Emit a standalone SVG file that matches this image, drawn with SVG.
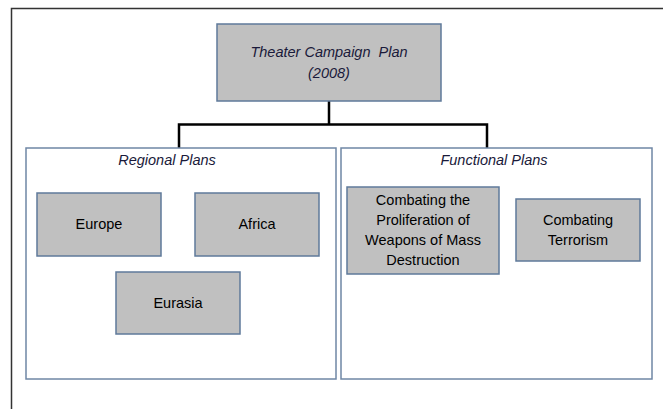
<svg xmlns="http://www.w3.org/2000/svg" width="663" height="409" viewBox="0 0 663 409">
<style>
.box{fill:#c0c0c0;stroke:#5f7a9a;stroke-width:1.5}
.grp{fill:#ffffff;stroke:#6f87a5;stroke-width:1.5}
.t{font-family:"Liberation Sans",Arial,sans-serif;font-size:14.5px;fill:#000;text-anchor:middle}
.it{font-style:italic;fill:#1a1a3a}
.con{fill:none;stroke:#000;stroke-width:2.5}
</style>
<rect width="663" height="409" fill="#fff"/>
<path d="M11.5 409 V8.5 H663" fill="none" stroke="#333" stroke-width="1.5"/>
<g id="connectors">
<path class="con" d="M329 101 V124.5 M179 148 V124.5 H487 V148"/>
</g>
<g id="regional">
<rect class="grp" x="26" y="148" width="310" height="231"/>
<text class="t it" x="167" y="165">Regional Plans</text>
</g>
<g id="functional">
<rect class="grp" x="341" y="148" width="311" height="231"/>
<text class="t it" x="494" y="165">Functional Plans</text>
</g>
<g id="tcp">
<rect class="box" x="217" y="24" width="224" height="77"/>
<text class="t it" x="329" y="57" xml:space="preserve">Theater Campaign  Plan</text>
<text class="t it" x="329" y="78">(2008)</text>
</g>
<g id="europe">
<rect class="box" x="37" y="193" width="124" height="63"/>
<text class="t" x="99" y="229">Europe</text>
</g>
<g id="africa">
<rect class="box" x="195" y="193" width="124" height="63"/>
<text class="t" x="257" y="229">Africa</text>
</g>
<g id="eurasia">
<rect class="box" x="116" y="272" width="124" height="62"/>
<text class="t" x="178" y="308">Eurasia</text>
</g>
<g id="wmd">
<rect class="box" x="347" y="187" width="152" height="87"/>
<text class="t" x="423" y="205">Combating the</text>
<text class="t" x="423" y="225">Proliferation of</text>
<text class="t" x="423" y="245">Weapons of Mass</text>
<text class="t" x="423" y="265">Destruction</text>
</g>
<g id="terrorism">
<rect class="box" x="516" y="199" width="124" height="62"/>
<text class="t" x="578" y="225">Combating</text>
<text class="t" x="578" y="245">Terrorism</text>
</g>
</svg>
